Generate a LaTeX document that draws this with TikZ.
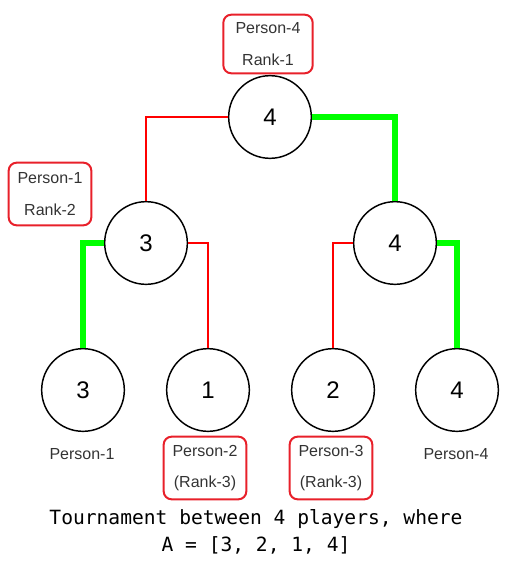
\documentclass[tikz,border=0pt]{standalone}
\usepackage{fontspec}
\setmainfont{Liberation Sans}
\setmonofont{DejaVu Sans Mono}
\usepackage{xcolor}
\usepackage{tikz}
\usetikzlibrary{positioning,calc}

\definecolor{winline}{RGB}{0,255,0}
\definecolor{loseline}{RGB}{255,0,0}
\definecolor{boxred}{RGB}{232,32,42}
\definecolor{labelgray}{RGB}{51,51,51}

\begin{document}
\begin{tikzpicture}[x=0.75pt,y=-0.75pt,
  player/.style={circle, draw=black, line width=1.1pt, fill=white,
    minimum size=62pt, inner sep=0pt, font=\fontsize{18}{20}\selectfont},
  win/.style={draw=winline, line width=4pt},
  lose/.style={draw=loseline, line width=1.1pt},
  rankbox/.style={draw=boxred, line width=1.5pt, rounded corners=6pt,
    minimum width=62pt, minimum height=47pt, inner sep=0pt, align=center,
    text=labelgray, font=\fontsize{12}{23.5}\selectfont},
  pname/.style={text=labelgray, font=\fontsize{12}{14}\selectfont}]
\useasboundingbox (0,0) rectangle (528,574);

% Players and matches
\node[player] (final) at (270,117) {4};
\node[player] (semiL) at (146,243) {3};
\node[player] (semiR) at (395,243) {4};
\node[player] (p1) at (83,390) {3};
\node[player] (p2) at (208,390) {1};
\node[player] (p3) at (333,390) {2};
\node[player] (p4) at (457,390) {4};

% Bracket lines
\draw[lose] (final.west) -| (semiL.north);
\draw[win] (final.east) -| (semiR.north);
\draw[win] (semiL.west) -| (p1.north);
\draw[lose] (semiL.east) -| (p2.north);
\draw[lose] (semiR.west) -| (p3.north);
\draw[win] (semiR.east) -| (p4.north);

% Ranks
\node[rankbox, minimum width=67pt, minimum height=44pt] (rank1) at (268,44) {Person-4\\Rank-1};
\node[rankbox] (rank2) at (50,194) {Person-1\\Rank-2};
\node[rankbox] (rank3a) at (205,468) {Person-2\\(Rank-3)};
\node[rankbox] (rank3b) at (331,468) {Person-3\\(Rank-3)};

% Names under the leaves
\node[pname] (n1) at (82,454) {Person-1};
\node[pname] (n4) at (456,454) {Person-4};

% Caption
\node[align=center, font=\fontsize{14.7}{20.2}\ttfamily] (caption) at (256,532)
  {Tournament between 4 players, where\\A = [3, 2, 1, 4]};
\end{tikzpicture}
\end{document}
